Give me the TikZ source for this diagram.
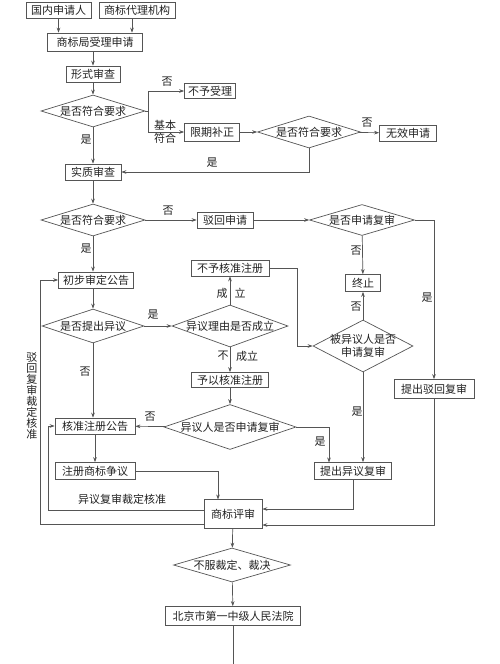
\documentclass[tikz,border=0pt]{standalone}
\usepackage{fontspec}
\newfontfamily\cjk{Noto Sans CJK SC}
\usetikzlibrary{shapes.geometric,arrows.meta}
\definecolor{linec}{HTML}{555555}
\definecolor{txtc}{HTML}{222222}
\newcommand\dtxt[1]{\makebox[0pt]{#1}}
\begin{document}
\begin{tikzpicture}[x=1pt,y=-1pt,
 box/.style={draw=linec, line width=0.7pt, fill=white, inner sep=0pt, minimum height=16pt, font=\cjk\fontsize{11}{12}\selectfont, text=txtc},
 dia/.style={draw=linec, line width=0.7pt, fill=white, diamond, aspect=1, inner sep=0pt, font=\cjk\fontsize{11}{13}\selectfont, text=txtc},
 arr/.style={draw=linec, line width=0.7pt, -{Stealth[length=5pt,width=3.6pt]}},
 ln/.style={draw=linec, line width=0.7pt},
 lbl/.style={font=\cjk\fontsize{11}{12}\selectfont, text=txtc, inner sep=0pt}]
\useasboundingbox[fill=white] (0,0) rectangle (500,664);
% boxes
\node[box, minimum width=65pt] (a1) at (58.5,10) {国内申请人};
\node[box, minimum width=76pt] (a2) at (137,10) {商标代理机构};
\node[box, minimum width=95pt, minimum height=18pt] (b) at (95,42) {商标局受理申请};
\node[box, minimum width=54pt] (c) at (93,74) {形式审查};
\node[dia, minimum width=104pt, minimum height=32pt] (d1) at (93,111) {\dtxt{是否符合要求}};
\node[box, minimum width=51pt, minimum height=15pt] (n1) at (210,91) {不予受理};
\node[box, minimum width=55pt, minimum height=18pt] (n2) at (212,132) {限期补正};
\node[dia, minimum width=103pt, minimum height=32pt] (d2) at (309,132) {\dtxt{是否符合要求}};
\node[box, minimum width=57pt] (n3) at (408,133) {无效申请};
\node[box, minimum width=56pt] (e) at (93,172) {实质审查};
\node[dia, minimum width=104pt, minimum height=32pt] (d3) at (93,220) {\dtxt{是否符合要求}};
\node[box, minimum width=56pt] (n4) at (225,220) {驳回申请};
\node[dia, minimum width=105pt, minimum height=31pt] (d4) at (362,220) {\dtxt{是否申请复审}};
\node[box, minimum width=35pt, minimum height=17pt] (n5) at (363,283) {终止};
\node[dia, minimum width=100pt, minimum height=52pt] (d6) at (363,346) {\dtxt{\shortstack{被异议人是否\\申请复审}}};
\node[box, minimum width=80pt, minimum height=19pt] (n6) at (434,389) {提出驳回复审};
\node[box, minimum width=75pt] (f) at (96,280) {初步审定公告};
\node[dia, minimum width=102pt, minimum height=34pt] (d5) at (93,326) {\dtxt{是否提出异议}};
\node[dia, minimum width=116pt, minimum height=42pt] (d7) at (230,326) {\dtxt{异议理由是否成立}};
\node[box, minimum width=78pt] (n7) at (230,268) {不予核准注册};
\node[box, minimum width=77pt, minimum height=15pt] (n8) at (230,380) {予以核准注册};
\node[dia, minimum width=132pt, minimum height=45pt] (d8) at (230,427) {\dtxt{异议人是否申请复审}};
\node[box, minimum width=80pt] (g) at (95,426) {核准注册公告};
\node[box, minimum width=80pt, minimum height=17pt] (h) at (95,471) {注册商标争议};
\node[box, minimum width=77pt, minimum height=17pt] (n9) at (353,471) {提出异议复审};
\node[box, minimum width=58pt, minimum height=29pt] (r) at (233,514) {商标评审};
\node[dia, minimum width=117pt, minimum height=34pt] (d9) at (232,565) {\dtxt{不服裁定、裁决}};
\node[box, minimum width=135pt, minimum height=19pt] (k) at (233,616) {北京市第一中级人民法院};
\coordinate (j1) at (148,111);
\coordinate (kend) at (233,664);
% connectors
\draw[arr] (a1) -- (a1 |- b.north);
\draw[arr] ([xshift=-5pt]a2.south) -- ([xshift=-5pt]a2.south |- b.north);
\draw[arr] (b.south -| c) -- (c);
\draw[arr] (c) -- (d1);
\draw[ln] (d1.east) -- (j1);
\draw[arr] (j1) |- (n1);
\draw[arr] (j1) |- (n2);
\draw[arr] (n2) -- (d2);
\draw[arr] (d2) -- (n3);
\draw[arr] (d2.south) |- (e.east);
\draw[arr] (d1) -- (e);
\draw[arr] (e) -- (d3);
\draw[arr] (d3) -- (n4);
\draw[arr] (n4) -- (d4);
\draw[arr] (d4.east) -| (n6.north);
\draw[arr] (d4) -- (n5);
\draw[arr] (d6) -- (n5);
\draw[arr] (d6.south) -- (d6.south |- n9.north);
\draw[arr] (d3.south) -- (d3.south |- f.north);
\draw[arr] (f.south -| d5) -- (d5);
\draw[arr] (d5) -- (d7);
\draw[arr] (d7) -- (n7);
\draw[arr] (n7.east) -- (297,268) |- (d6.west);
\draw[arr] (d7) -- (n8);
\draw[arr] (n8) -- (d8);
\draw[arr] (d8.east) -- (329,427) -- (329,462.5);
\draw[arr] (d8) -- (g);
\draw[arr] (d5.south) -- (d5.south |- g.north);
\draw[arr] (g) -- (h);
\draw[arr] (h.east) -- (218,471) -- (218,499.5);
\draw[arr] (n9.south) -- (353,509) -- (r.east |- 0,509);
\draw[arr] (n6.south) -- (434,525) -- (r.east |- 0,525);
\draw[arr] (r.west |- 0,510) -- (48,510) |- (g.west);
\draw[arr] (r.west |- 0,524) -- (40,524) |- (f.west);
\draw[arr] (r) -- (d9);
\draw[arr] (d9) -- (k);
\draw[ln] (k) -- (kend);
% labels
\node[lbl] at (167,82) {否};
\node[lbl, align=center, font=\cjk\fontsize{11}{13}\selectfont] at (165,132) {基本\\符合};
\node[lbl] at (367,123) {否};
\node[lbl] at (212,163) {是};
\node[lbl] at (86,140) {是};
\node[lbl] at (168,211) {否};
\node[lbl] at (427,298) {是};
\node[lbl] at (356,251) {否};
\node[lbl] at (356,307) {否};
\node[lbl] at (357,412) {是};
\node[lbl] at (86,249) {是};
\node[lbl] at (153,315) {是};
\node[lbl] at (222,293) {成};
\node[lbl] at (240,293) {立};
\node[lbl] at (223,356) {不};
\node[lbl] at (247,356) {成立};
\node[lbl] at (320,442) {是};
\node[lbl] at (150,417) {否};
\node[lbl] at (85,372) {否};
\node[lbl] at (122,499) {异议复审裁定核准};
\node[lbl, align=center, font=\cjk\fontsize{11}{11}\selectfont] at (32,396) {驳\\回\\复\\审\\裁\\定\\核\\准};
\end{tikzpicture}
\end{document}
